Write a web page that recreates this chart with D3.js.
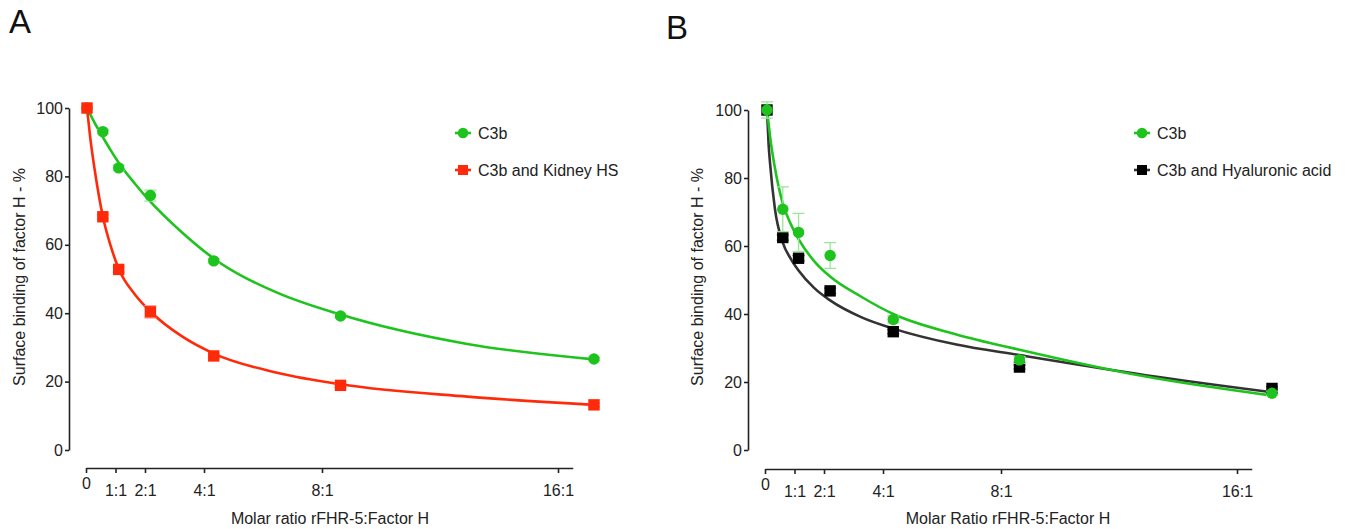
<!DOCTYPE html>
<html><head><meta charset="utf-8">
<script src="https://cdn.jsdelivr.net/npm/d3@7"></script>
<style>
body{margin:0;background:#fff;}
svg{display:block;font-family:"Liberation Sans",Arial,sans-serif;}
</style></head>
<body><svg id="c" width="1350" height="529"></svg>
<script>
// ---------- data ----------
const ratios = [0, 0.5, 1, 2, 4, 8, 16];
const xTickValues = [0, 1, 2, 4, 8, 16];
const xTickLabels = ["0", "1:1", "2:1", "4:1", "8:1", "16:1"];
const yTickValues = [0, 20, 40, 60, 80, 100];

// Panel A
const aC3b      = [100, 93.1, 82.5, 74.4, 55.3, 39.2, 26.6];
const aC3bErr   = [0, 0.6, 0.8, 1.6, 0.6, 0.6, 0.5];
const aKidney   = [100, 68.2, 52.8, 40.4, 27.5, 18.9, 13.2];
const aKidneyErr= [0, 0.6, 0.8, 1.8, 0.6, 0.6, 0.5];

// Panel B
const bC3b      = [100, 70.8, 64.0, 57.2, 38.4, 26.5, 16.7];
const bC3bErr   = [2.4, 6.6, 5.6, 3.8, 1.0, 1.0, 0.6];
const bHyal     = [100, 62.5, 56.4, 46.8, 34.8, 24.4, 18.1];
const bHyalErr  = [0, 0.8, 0.8, 0.8, 0.6, 0.6, 0.5];

// fitted curves
const fitAX      = [0, 0.1, 0.25, 0.5, 0.75, 1, 1.5, 2, 3, 4, 6, 8, 12, 16];
const fitAC3b    = [100, 98.2, 95.5, 91.5, 87.6, 84, 78, 72.6, 63.6, 56, 46, 39.6, 31, 26.5];
const fitAKidney = [100, 91.5, 81.5, 68.3, 59.6, 53, 45.6, 40.5, 33.2, 28.2, 22.6, 19.2, 15.6, 13.2];
const fitBX      = [0, 0.05, 0.1, 0.25, 0.5, 0.75, 1, 1.5, 2, 3, 4, 6, 8, 12, 16];
const fitBC3b    = [100, 96, 92, 83, 72.5, 66.5, 62, 55.5, 51, 45, 40, 34, 29.5, 21.6, 16];
const fitBHyal   = [100, 90, 84, 71, 61, 56.3, 52.8, 47.6, 44, 39, 35.7, 31, 27.9, 22, 17];

const svg = d3.select("#c");
const GREEN = "#1ec31e", RED = "#ff2a0a", BLACK = "#000";
const FS = 16;

function panel(cfg){
  const g = svg.append("g");
  const y = d3.scaleLinear().domain([0,100]).range([cfg.y0, cfg.y100]);
  const xData = d3.scaleLinear().domain([0,16]).range([cfg.xd0, cfg.xd16]);
  const xAxisScale = d3.scaleLinear().domain([0,16.5]).range([cfg.xa0, cfg.xa0 + (cfg.xaT16 - cfg.xa0) * 16.5/16]);

  // y axis
  const ya = g.append("g").attr("transform", `translate(${cfg.yAxisX},0)`)
    .call(d3.axisLeft(y).tickValues(yTickValues).tickSize(4).tickSizeOuter(0).tickPadding(2));
  ya.select(".domain").attr("stroke","#222").attr("stroke-width",1.6);
  ya.selectAll(".tick line").attr("stroke","#222").attr("stroke-width",1.6);
  ya.selectAll(".tick text").attr("font-size",FS).attr("fill","#222").attr("font-family","Liberation Sans, Arial, sans-serif");

  // x axis
  const xa = g.append("g").attr("transform", `translate(0,${cfg.xAxisY})`)
    .call(d3.axisBottom(xAxisScale).tickValues(xTickValues).tickFormat((d,i)=>xTickLabels[i]).tickSize(5).tickSizeOuter(0).tickPadding(12));
  xa.select(".domain").attr("stroke","#222").attr("stroke-width",1.6);
  xa.selectAll(".tick line").attr("stroke","#222").attr("stroke-width",1.6);
  xa.selectAll(".tick text").attr("font-size",FS).attr("fill","#222").attr("font-family","Liberation Sans, Arial, sans-serif")
    .attr("y",(d)=> d===0 ? 10 : 17);

  // axis titles
  g.append("text").attr("x", cfg.xTitleX).attr("y", 524).attr("text-anchor","middle")
    .attr("font-size",FS).attr("fill","#222").text(cfg.xTitle);
  g.append("text").attr("transform", `translate(${cfg.yTitleX},277) rotate(-90)`).attr("text-anchor","middle")
    .attr("font-size",FS).attr("fill","#222").text("Surface binding of factor H - %");

  // panel letter
  g.append("text").attr("x", cfg.letterX).attr("y", cfg.letterY).attr("font-size",33).attr("fill","#111").text(cfg.letter);

  const line = d3.line().x(d=>xData(d[0])).y(d=>y(d[1])).curve(d3.curveMonotoneX);

  cfg.series.forEach(s=>{
    g.append("path").datum(s.fit).attr("d", line).attr("fill","none")
      .attr("stroke", s.curveColor).attr("stroke-width",2.6);
  });
  cfg.series.forEach(s=>{
    const pts = ratios.map((r,i)=>({x:r, v:s.values[i], e:s.err[i]}));
    const eb = g.append("g");
    pts.filter(p=>p.e>0).forEach(p=>{
      const cx = xData(p.x);
      eb.append("line").attr("x1",cx).attr("x2",cx).attr("y1",y(p.v-p.e)).attr("y2",y(p.v+p.e))
        .attr("stroke", s.errColor).attr("stroke-width",1.3);
      [p.v-p.e, p.v+p.e].forEach(vv=>{
        eb.append("line").attr("x1",cx-6).attr("x2",cx+6).attr("y1",y(vv)).attr("y2",y(vv))
          .attr("stroke", s.errColor).attr("stroke-width",1.3);
      });
    });
    pts.forEach(p=>{
      const cx = xData(p.x), cy = y(p.v);
      if(s.shape==="circle"){
        g.append("circle").attr("cx",cx).attr("cy",cy).attr("r",5.7).attr("fill",s.color);
      } else {
        g.append("rect").attr("x",cx-5.7).attr("y",cy-5.7).attr("width",11.4).attr("height",11.4).attr("fill",s.color);
      }
    });
  });

  // legend
  cfg.legend.forEach((s,i)=>{
    const ly = 133 + i*37;
    const lx = cfg.legendX;
    g.append("line").attr("x1",lx-8).attr("x2",lx+8).attr("y1",ly).attr("y2",ly)
      .attr("stroke", s.curveColor).attr("stroke-width",2.6);
    if(s.shape==="circle") g.append("circle").attr("cx",lx).attr("cy",ly).attr("r",5.3).attr("fill",s.color);
    else g.append("rect").attr("x",lx-5).attr("y",ly-5).attr("width",10).attr("height",10).attr("fill",s.color);
    g.append("text").attr("x",lx+15).attr("y",ly+6).attr("font-size",FS).attr("fill","#222").text(s.name);
  });
}

const sA1 = {name:"C3b", values:aC3b, err:aC3bErr, fit:fitAX.map((r,i)=>[r,fitAC3b[i]]), color:GREEN, curveColor:GREEN, errColor:"#9be59b", shape:"circle"};
const sA2 = {name:"C3b and Kidney HS", values:aKidney, err:aKidneyErr, fit:fitAX.map((r,i)=>[r,fitAKidney[i]]), color:RED, curveColor:RED, errColor:"#ffa0a0", shape:"square"};
panel({
  letter:"A", letterX:9, letterY:33,
  y0:450, y100:108, yAxisX:69,
  xd0:87, xd16:594, xa0:86, xaT16:558, xAxisY:468,
  xTitle:"Molar ratio rFHR-5:Factor H", xTitleX:330, yTitleX:25,
  legendX:463,
  series:[sA1, sA2], legend:[sA1, sA2]
});

const sB1 = {name:"C3b", values:bC3b, err:bC3bErr, fit:fitBX.map((r,i)=>[r,fitBC3b[i]]), color:GREEN, curveColor:GREEN, errColor:"#9be59b", shape:"circle"};
const sB2 = {name:"C3b and Hyaluronic acid", values:bHyal, err:bHyalErr, fit:fitBX.map((r,i)=>[r,fitBHyal[i]]), color:BLACK, curveColor:"#333", errColor:"#555", shape:"square"};
panel({
  letter:"B", letterX:666, letterY:39,
  y0:450, y100:110, yAxisX:748,
  xd0:767, xd16:1272, xa0:765, xaT16:1237, xAxisY:469,
  xTitle:"Molar Ratio rFHR-5:Factor H", xTitleX:1008, yTitleX:703,
  legendX:1142,
  series:[sB2, sB1], legend:[sB1, sB2]
});
</script>
</body></html>
